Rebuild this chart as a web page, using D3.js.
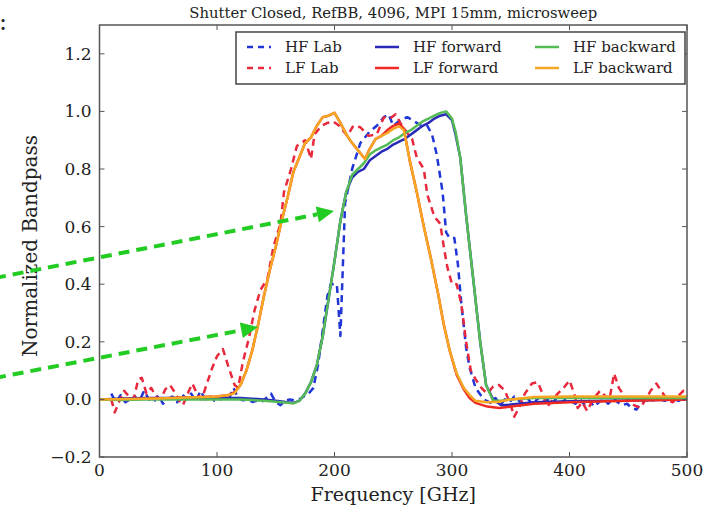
<!DOCTYPE html>
<html>
<head>
<meta charset="utf-8">
<script src="https://cdn.jsdelivr.net/npm/d3@7"></script>
<style>
  body { margin: 0; background: #fff; }
  svg { display: block; font-family: "DejaVu Serif", serif; }
</style>
</head>
<body>
<div id="chart"></div>
<script>
// lab measurements (dashed)
const hfLabFreq = [10,14,18,22,26,30,34,38,42,46,50,54,58,62,66,70,74,78,82,86,90,94,98,102,106,110,114,118,122,126,130,134,138,142,146,150,154,158,162,166,170,174,178,182,
  186,190,194,197,202,205,209,215,222,230,236,242,246,250,256,262,266,272,279,283,287,292,295,298,302,305,308,312,315,320,327,333,
  337,341,345,349,353,357,361,365,369,373,377,381,385,389,393,397,401,405,409,413,417,421,425,429,433,437,441,445,449,453,457,461,465,469,473,477,481,485,489,493,497,500];
const hfLab = [0.02,-0.01,0.015,-0.01,0.0,0.01,-0.005,0.03,0.0,-0.01,0.015,-0.015,0.0,0.01,-0.01,0.02,0.0,0.02,-0.005,0.03,0.0,0.01,-0.005,-0.003,0.01,0.0,0.04,0.005,-0.003,0.0,-0.009,-0.005,-0.009,0.005,0.02,-0.01,-0.02,-0.005,0.0,-0.003,0.0,0.01,0.02,0.04,
  0.12,0.24,0.36,0.40,0.40,0.22,0.68,0.80,0.89,0.93,0.95,0.98,0.99,0.95,0.97,0.98,0.97,0.955,0.95,0.92,0.85,0.72,0.58,0.56,0.56,0.47,0.33,0.18,0.11,0.04,0.0,-0.012,
  0.005,-0.02,0.0,-0.01,0.01,-0.005,-0.015,0.0,-0.02,0.005,-0.01,0.0,-0.015,0.005,-0.01,0.0,-0.005,-0.015,0.0,-0.02,-0.005,-0.025,-0.01,0.0,-0.015,0.005,-0.01,-0.02,-0.015,-0.03,-0.035,-0.01,0.0,-0.01,0.005,0.0,-0.005,0.005,0.0,-0.005,0.005,0.0];

const lfLabFreq = [10,13,17,21,25,29,33,36,40,44,48,52,56,60,64,68,71,75,79,83,87,91,96,100,105,110,115,118,122,127,132,137,143,148,154,157,163,168,175,180,183,189,194,199,204,211,216,222,229,236,242,247,252,256,261,266,270,276,279,285,290,293,296,300,304,308,312,316,320,325,330,335,340,345,350,353,357,362,368,373,378,381,386,390,395,400,404,407,411,415,420,426,431,434,438,442,447,451,455,460,465,469,474,478,483,488,492,497,500];
const lfLab = [0.0,-0.045,-0.005,0.03,0.01,0.0,0.07,0.075,0.02,0.04,0.01,0.0,0.035,0.05,0.025,-0.005,-0.02,0.02,0.055,0.02,0.0,0.05,0.11,0.15,0.175,0.11,0.05,0.04,0.13,0.21,0.31,0.38,0.42,0.53,0.61,0.72,0.80,0.88,0.90,0.835,0.92,0.95,0.96,0.965,0.95,0.915,0.95,0.945,0.915,0.92,0.98,0.975,0.99,0.96,0.93,0.905,0.84,0.80,0.71,0.635,0.61,0.53,0.46,0.40,0.40,0.33,0.20,0.10,0.07,0.04,0.02,0.045,0.05,0.03,-0.02,-0.06,-0.03,0.02,0.055,0.06,0.01,-0.025,0.0,0.02,0.04,0.066,0.02,-0.03,-0.01,-0.04,0.0,0.03,0.01,0.0,0.09,0.04,0.01,-0.01,-0.02,-0.03,0.0,0.03,0.055,0.03,0.0,-0.01,0.01,0.03,0.02];

// microsweep measurements (solid)
const hfSweepFreq = [0,20,40,60,80,100,120,140,150,160,165,170,175,180,185,190,195,200,205,210,215,220,225,230,235,240,245,250,255,260,265,270,275,280,285,290,295,300,303,307,312,318,324,329,335,342,350,370,400,450,500];
const hfForward = [0.0,0.003,0.005,0.005,0.005,0.005,0.005,0.0,-0.005,-0.01,-0.012,-0.005,0.02,0.06,0.12,0.22,0.35,0.48,0.62,0.72,0.77,0.79,0.80,0.83,0.845,0.86,0.87,0.885,0.895,0.905,0.92,0.935,0.95,0.96,0.975,0.985,0.99,0.97,0.92,0.84,0.64,0.42,0.2,0.05,0.0,-0.02,-0.018,-0.01,-0.006,-0.004,0.0];
const hfBackward = [0.0,-0.002,0.0,0.0,0.0,0.0,0.0,-0.005,-0.008,-0.012,-0.014,-0.005,0.02,0.06,0.12,0.22,0.35,0.48,0.62,0.72,0.78,0.80,0.82,0.85,0.865,0.875,0.885,0.90,0.91,0.925,0.935,0.95,0.965,0.975,0.985,0.995,1.0,0.975,0.93,0.84,0.64,0.42,0.2,0.05,-0.005,-0.005,0.0,0.005,0.005,0.005,0.005];

const lfSweepFreq = [0,50,100,110,115,120,125,130,135,140,145,150,155,160,165,170,175,180,185,190,195,200,205,210,215,220,226,230,235,240,245,250,255,259,264,270,276,282,288,293,298,304,310,315,320,330,340,350,370,400,450,500];
const lfForward = [0.0,0.003,0.01,0.015,0.025,0.05,0.1,0.17,0.26,0.36,0.45,0.53,0.62,0.70,0.79,0.84,0.89,0.91,0.95,0.98,0.985,0.995,0.96,0.92,0.89,0.865,0.835,0.87,0.905,0.915,0.935,0.95,0.958,0.94,0.83,0.72,0.60,0.49,0.37,0.26,0.17,0.085,0.035,0.005,-0.012,-0.025,-0.03,-0.025,-0.015,-0.01,-0.005,0.0];
const lfBackward = [0.0,0.003,0.01,0.015,0.022,0.05,0.1,0.17,0.26,0.36,0.45,0.53,0.62,0.70,0.79,0.84,0.89,0.91,0.95,0.98,0.985,0.995,0.96,0.92,0.89,0.865,0.835,0.87,0.905,0.915,0.925,0.94,0.948,0.935,0.83,0.72,0.60,0.49,0.37,0.26,0.17,0.09,0.04,0.015,-0.005,-0.01,-0.008,0.0,0.008,0.01,0.01,0.01];

const xTicks = [0, 100, 200, 300, 400, 500];
const yTicks = [-0.2, 0.0, 0.2, 0.4, 0.6, 0.8, 1.0, 1.2];

const series = [
  { name: "HF Lab", freq: hfLabFreq, vals: hfLab, color: "#1f35d6", dash: "7,5" },
  { name: "LF Lab", freq: lfLabFreq, vals: lfLab, color: "#e8283c", dash: "7,5" },
  { name: "HF forward", freq: hfSweepFreq, vals: hfForward, color: "#2a2ab8", dash: null },
  { name: "LF forward", freq: lfSweepFreq, vals: lfForward, color: "#ee2a22", dash: null },
  { name: "HF backward", freq: hfSweepFreq, vals: hfBackward, color: "#55bb55", dash: null },
  { name: "LF backward", freq: lfSweepFreq, vals: lfBackward, color: "#f5a623", dash: null }
];

const W = 709, H = 508;
const plot = { left: 99.5, right: 687, top: 25, bottom: 457 };

const svg = d3.select("#chart").append("svg")
  .attr("width", W)
  .attr("height", H);

const x = d3.scaleLinear().domain([0, 500]).range([plot.left, plot.right]);
const y = d3.scaleLinear().domain([-0.2, 1.3]).range([plot.bottom, plot.top]);

// title
svg.append("text")
  .attr("x", (plot.left + plot.right) / 2)
  .attr("y", 18)
  .attr("text-anchor", "middle")
  .attr("textLength", 408)
  .attr("lengthAdjust", "spacingAndGlyphs")
  .style("font-size", "15px")
  .style("fill", "#222")
  .text("Shutter Closed, RefBB, 4096, MPI 15mm, microsweep");

// lines
const line = d3.line()
  .x(d => x(d[0]))
  .y(d => y(d[1]));

const lines = svg.append("g");
series.forEach(s => {
  const pts = s.freq.map((f, i) => [f, s.vals[i]]);
  lines.append("path")
    .datum(pts)
    .attr("d", line)
    .attr("fill", "none")
    .attr("stroke", s.color)
    .attr("stroke-width", 2.5)
    .attr("stroke-linejoin", "round")
    .attr("stroke-dasharray", s.dash);
});

// frame + inward ticks on all sides
const frame = svg.append("g");
const tickLen = 5;
const tickColor = "#555";
xTicks.forEach(t => {
  frame.append("line").attr("x1", x(t)).attr("x2", x(t))
    .attr("y1", plot.bottom).attr("y2", plot.bottom - tickLen)
    .attr("stroke", tickColor);
  frame.append("line").attr("x1", x(t)).attr("x2", x(t))
    .attr("y1", plot.top).attr("y2", plot.top + tickLen)
    .attr("stroke", tickColor);
  frame.append("text")
    .attr("x", x(t))
    .attr("y", plot.bottom + 19)
    .attr("text-anchor", "middle")
    .style("font-size", "17px")
    .style("fill", "#222")
    .text(t);
});
yTicks.forEach(t => {
  frame.append("line").attr("x1", plot.left).attr("x2", plot.left + tickLen)
    .attr("y1", y(t)).attr("y2", y(t))
    .attr("stroke", tickColor);
  frame.append("line").attr("x1", plot.right).attr("x2", plot.right - tickLen)
    .attr("y1", y(t)).attr("y2", y(t))
    .attr("stroke", tickColor);
  frame.append("text")
    .attr("x", plot.left - 8)
    .attr("y", y(t) + 6)
    .attr("text-anchor", "end")
    .style("font-size", "17px")
    .style("fill", "#222")
    .text(d3.format(".1f")(t).replace("-", "\u2212"));
});
frame.append("rect")
  .attr("x", plot.left).attr("y", plot.top)
  .attr("width", plot.right - plot.left)
  .attr("height", plot.bottom - plot.top)
  .attr("fill", "none")
  .attr("stroke", "#555")
  .attr("stroke-width", 1.5);

// axis labels
svg.append("text")
  .attr("x", (plot.left + plot.right) / 2)
  .attr("y", 501)
  .attr("text-anchor", "middle")
  .style("font-size", "19px")
  .style("fill", "#222")
  .text("Frequency [GHz]");

svg.append("text")
  .attr("transform", `translate(37,${(plot.top + plot.bottom) / 2 + 5}) rotate(-90)`)
  .attr("text-anchor", "middle")
  .style("font-size", "20px")
  .style("fill", "#222")
  .text("Normalized Bandpass");

// legend (3 columns, 2 rows)
const legend = svg.append("g");
legend.append("rect")
  .attr("x", 236).attr("y", 32)
  .attr("width", 449).attr("height", 52)
  .attr("fill", "#fff")
  .attr("stroke", "#444")
  .attr("stroke-width", 1.5);
const colX = [247, 375, 535];
const rowY = [47, 68];
series.forEach((s, i) => {
  const cx = colX[Math.floor(i / 2)];
  const cy = rowY[i % 2];
  legend.append("line")
    .attr("x1", cx).attr("x2", cx + 24)
    .attr("y1", cy).attr("y2", cy)
    .attr("stroke", s.color)
    .attr("stroke-width", 2.5)
    .attr("stroke-dasharray", s.dash ? "6,5" : null);
  legend.append("text")
    .attr("x", cx + 38)
    .attr("y", cy + 5)
    .style("font-size", "15px")
    .style("fill", "#222")
    .text(s.name);
});

// green annotation arrows
const arrows = [
  { from: [-5, 278], to: [334, 211] },
  { from: [-5, 378], to: [258, 327] }
];
const arrowG = svg.append("g");
arrows.forEach(a => {
  const dx = a.to[0] - a.from[0], dy = a.to[1] - a.from[1];
  const len = Math.hypot(dx, dy);
  const ux = dx / len, uy = dy / len;
  const headL = 17, headW = 8;
  const bx = a.to[0] - ux * headL, by = a.to[1] - uy * headL;
  arrowG.append("line")
    .attr("x1", a.from[0]).attr("y1", a.from[1])
    .attr("x2", bx).attr("y2", by)
    .attr("stroke", "#22cc22")
    .attr("stroke-width", 4)
    .attr("stroke-dasharray", "11,7");
  arrowG.append("path")
    .attr("d", `M${a.to[0]},${a.to[1]} L${bx - uy * headW},${by + ux * headW} L${bx + uy * headW},${by - ux * headW} Z`)
    .attr("fill", "#22cc22");
});

// cut-off mark at top-left corner of the slide
svg.append("text")
  .attr("x", -1).attr("y", 30)
  .style("font-size", "24px")
  .style("fill", "#222")
  .text(":");
</script>
</body>
</html>
